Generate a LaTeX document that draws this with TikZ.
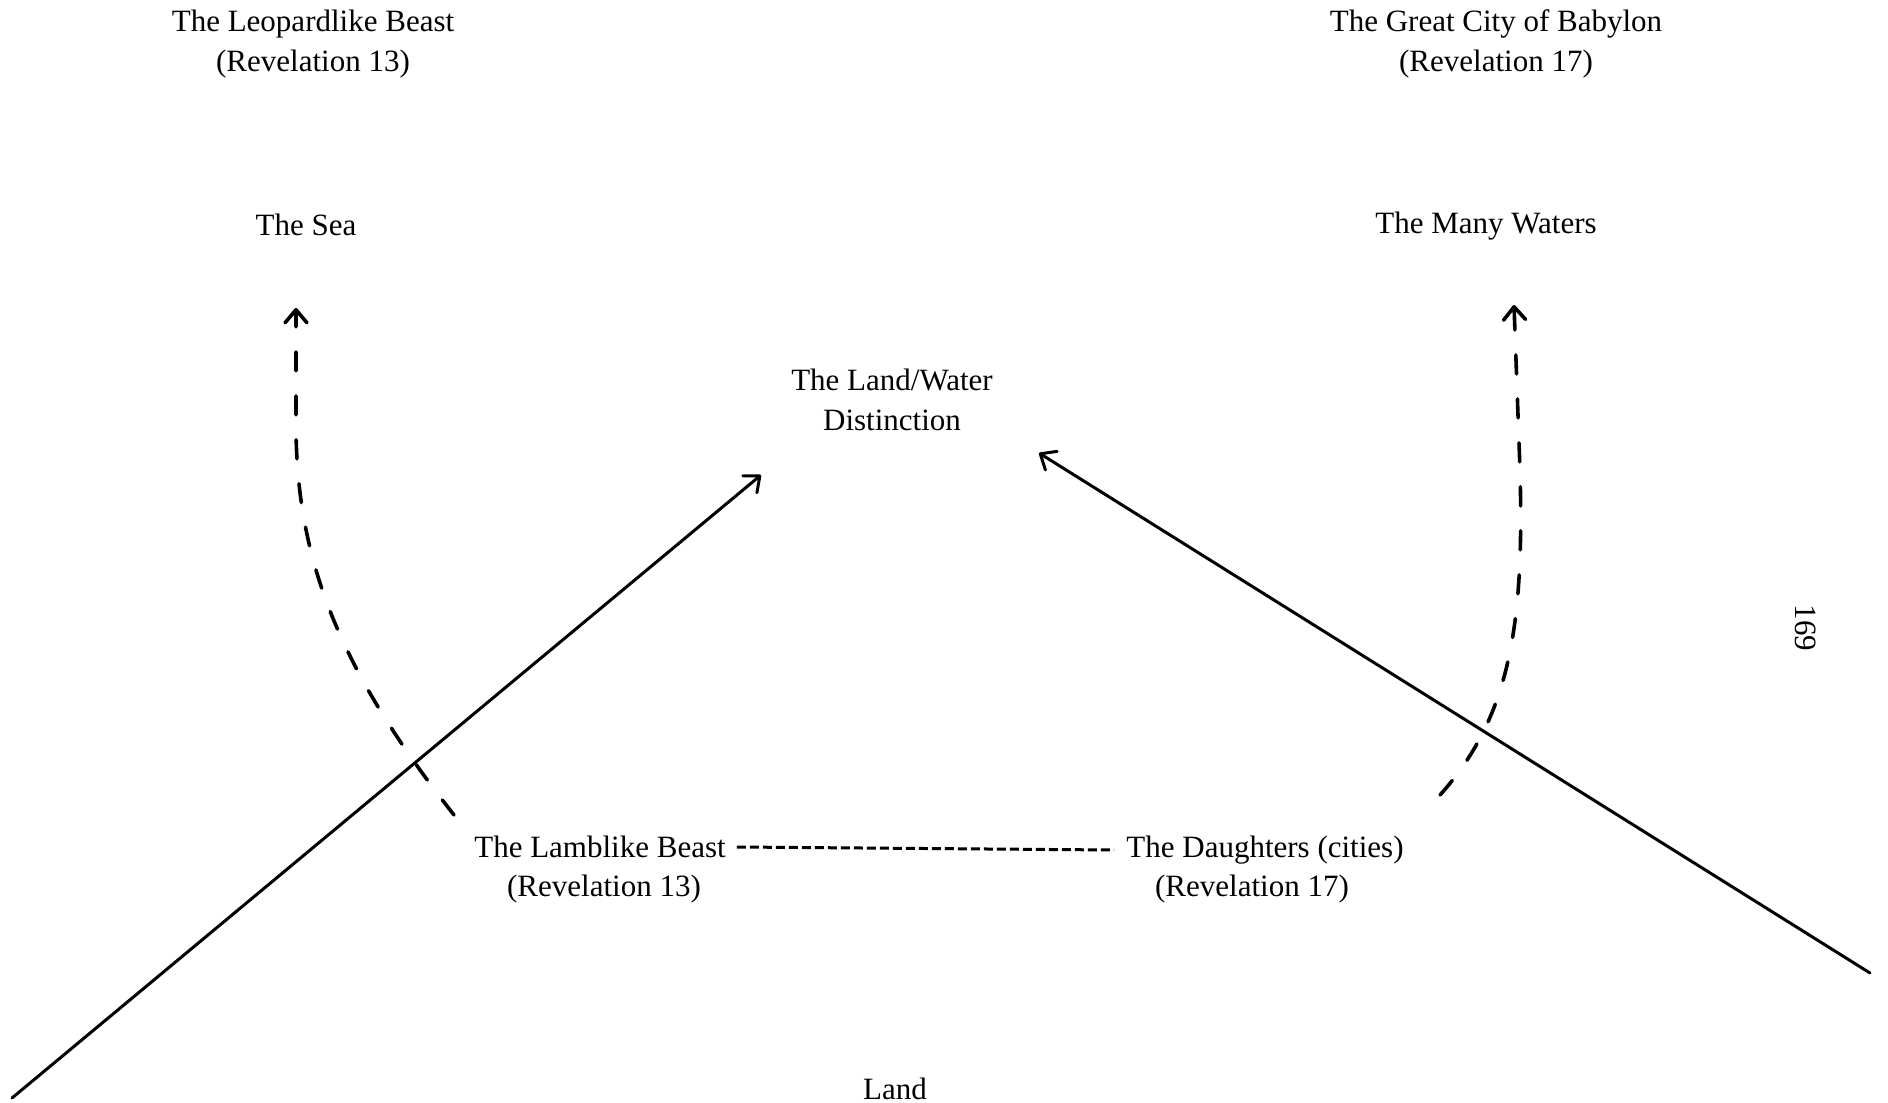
\documentclass[tikz,border=0pt]{standalone}
\usepackage{fontspec}
\setmainfont{Liberation Serif}
\usetikzlibrary{arrows.meta}
\begin{document}
\begin{tikzpicture}[x=1pt,y=-1pt,
  every node/.style={inner sep=0pt,font=\fontsize{31}{40}\selectfont},
  lbl/.style={align=center},
  barb/.style={-{Straight Barb[length=13pt,width=22pt,line cap=round,line join=round]}},
  solidarrow/.style={barb,line width=3pt,line cap=round},
  curvearrow/.style={barb,line width=3.6pt,line cap=round,dash pattern=on 19pt off 25pt},
  linkline/.style={line width=3pt,dash pattern=on 9pt off 4pt}]
\useasboundingbox (0,0) rectangle (1888,1103);

% headings and places
\node[lbl] (leopard) at (313,44) {The Leopardlike Beast\\(Revelation 13)};
\node[lbl] (babylon) at (1496,44) {The Great City of Babylon\\(Revelation 17)};
\node (sea) at (306,225) {The Sea};
\node (waters) at (1486,226) {The Many Waters};
\node[lbl] (landwater) at (892,400) {The Land/Water\\Distinction};
\node (land) at (895,1089) {Land};

% the two lower figures, first and second lines
\node (lamb) at (600,847) {The Lamblike Beast};
\node (lambref) at (604,889) {(Revelation 13)};
\node (daughters) at (1265,850) {The Daughters (cities)};
\node (daughtersref) at (1252,889) {(Revelation 17)};

% page number
\node[rotate=-90] (page) at (1806,628) {169};

% arrow ends
\coordinate (swcorner) at (12,1098);
\coordinate (lwleft) at (761,475);
\coordinate (secorner) at (1870,973);
\coordinate (lwright) at (1039,453);
\coordinate (seatip) at (296,308);
\coordinate (lambtop) at (454,815);
\coordinate (waterstip) at (1514,305);
\coordinate (daughterstop) at (1440,795);

% solid arrows towards the distinction
\draw[solidarrow] (swcorner) -- (lwleft);
\draw[solidarrow] (secorner) -- (lwright);

% dashed curves up to the waters
\draw[curvearrow] (lambtop) .. controls (340,670) and (295,560) .. (296,420) -- (seatip);
\draw[curvearrow] (daughterstop) .. controls (1512,715) and (1524,620) .. (1520,470) -- (waterstip);

% link between the two lower figures
\draw[linkline] ([xshift=11pt]lamb.east) -- ([xshift=-12pt]daughters.west);
\end{tikzpicture}
\end{document}
